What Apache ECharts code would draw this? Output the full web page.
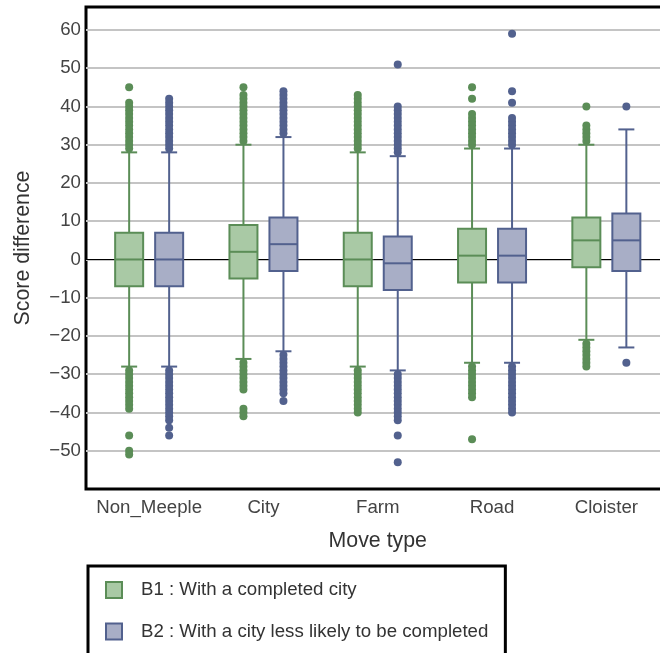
<!DOCTYPE html>
<html>
<head>
<meta charset="utf-8">
<script src="https://cdn.jsdelivr.net/npm/echarts@6/dist/echarts.min.js"></script>
<style>html,body{margin:0;padding:0;background:#fff;}#chart{width:660px;height:653px;}</style>
</head>
<body>
<div id="chart"></div>
<script>
// ---- data ----
const categories = ['Non_Meeple', 'City', 'Farm', 'Road', 'Cloister'];
const seriesNames = ['B1 : With a completed city', 'B2 : With a city less likely to be completed'];
// [lower whisker, Q1, median, Q3, upper whisker]
const b1Box = [
  [-28, -7, 0, 7, 28],
  [-26, -5, 2, 9, 30],
  [-28, -7, 0, 7, 28],
  [-27, -6, 1, 8, 29],
  [-21, -2, 5, 11, 30]
];
const b2Box = [
  [-28, -7, 0, 7, 28],
  [-24, -3, 4, 11, 32],
  [-29, -8, -1, 6, 27],
  [-27, -6, 1, 8, 29],
  [-23, -3, 5, 12, 34]
];
const b1Outliers = [
  [29,30,31,32,33,34,35,36,37,38,39,40,41,45,-29,-30,-31,-32,-33,-34,-35,-36,-37,-38,-39,-46,-50,-51],
  [31,32,33,34,35,36,37,38,39,40,41,42,43,45,-27,-28,-29,-30,-31,-32,-33,-34,-39,-40,-41],
  [29,30,31,32,33,34,35,36,37,38,39,40,41,42,43,-29,-30,-31,-32,-33,-34,-35,-36,-37,-38,-39,-40],
  [30,31,32,33,34,35,36,37,38,42,45,-28,-29,-30,-31,-32,-33,-34,-35,-36,-47],
  [31,32,33,34,35,40,-22,-23,-24,-25,-26,-27,-28]
];
const b2Outliers = [
  [29,30,31,32,33,34,35,36,37,38,39,40,41,42,-29,-30,-31,-32,-33,-34,-35,-36,-37,-38,-39,-40,-41,-42,-44,-46],
  [33,34,35,36,37,38,39,40,41,42,43,44,-25,-26,-27,-28,-29,-30,-31,-32,-33,-34,-35,-37],
  [28,29,30,31,32,33,34,35,36,37,38,39,40,51,-30,-31,-32,-33,-34,-35,-36,-37,-38,-39,-40,-41,-42,-46,-53],
  [30,31,32,33,34,35,36,37,41,44,59,-28,-29,-30,-31,-32,-33,-34,-35,-36,-37,-38,-39,-40],
  [40,-27]
];
const yTicks = { min: -60, max: 66, interval: 10 };

// ---- styles ----
const GREEN = '#5b8d57', GREEN_FILL = '#a9c9a5';
const BLUE = '#52618e', BLUE_FILL = '#a8aec6';
const FONT = '"Liberation Sans", Arial, sans-serif';

function boxData(boxes) { return boxes.map((b, i) => [i].concat(b)); }
function outlierData(outs) {
  const res = [];
  outs.forEach((arr, i) => arr.forEach(v => res.push([i, v])));
  return res;
}
function makeRender(offset, stroke, fill) {
  return function (params, api) {
    const c = api.value(0);
    const lo = api.coord([c, api.value(1)]);
    const q1 = api.coord([c, api.value(2)]);
    const md = api.coord([c, api.value(3)]);
    const q3 = api.coord([c, api.value(4)]);
    const hi = api.coord([c, api.value(5)]);
    const x = lo[0] + offset;
    const hw = 14, cw = 8;
    const ls = { stroke: stroke, lineWidth: 2 };
    return {
      type: 'group', children: [
        { type: 'line', shape: { x1: x, y1: hi[1], x2: x, y2: q3[1] }, style: ls },
        { type: 'line', shape: { x1: x, y1: q1[1], x2: x, y2: lo[1] }, style: ls },
        { type: 'line', shape: { x1: x - cw, y1: hi[1], x2: x + cw, y2: hi[1] }, style: ls },
        { type: 'line', shape: { x1: x - cw, y1: lo[1], x2: x + cw, y2: lo[1] }, style: ls },
        { type: 'rect', shape: { x: x - hw, y: q3[1], width: 2 * hw, height: q1[1] - q3[1] }, style: { fill: fill, stroke: stroke, lineWidth: 2 } },
        { type: 'line', shape: { x1: x - hw, y1: md[1], x2: x + hw, y2: md[1] }, style: ls }
      ]
    };
  };
}

const splitColors = [];
for (let v = yTicks.min; v <= yTicks.max + 9; v += yTicks.interval) {
  splitColors.push(v === yTicks.min || v > 60 ? 'rgba(0,0,0,0)' : '#c4c4c4');
}

const chart = echarts.init(document.getElementById('chart'), null, { renderer: 'canvas' });
const GRID_TOP = 7, GRID_H = 482;
chart.setOption({
  backgroundColor: '#fff',
  animation: false,
  textStyle: { fontFamily: FONT },
  grid: [
    { left: 92, top: GRID_TOP, width: 571.5, height: GRID_H, outerBoundsMode: 'none', containLabel: false },
    { left: 86, top: GRID_TOP, width: 620, height: GRID_H, outerBoundsMode: 'none', containLabel: false,
      show: true, borderColor: '#000', borderWidth: 3, backgroundColor: 'transparent' }
  ],
  xAxis: [
    {
      gridIndex: 0, type: 'category', data: categories,
      axisLine: { show: false }, axisTick: { show: false },
      axisLabel: { fontSize: 18.67, color: '#444', margin: 9, fontFamily: FONT, interval: 0 },
      name: 'Move type', nameLocation: 'middle', nameGap: 42,
      nameTextStyle: { fontSize: 21.33, color: '#333', fontFamily: FONT }
    },
    {
      gridIndex: 1, type: 'value', min: 0, max: 1,
      axisLine: { show: true, onZero: true, lineStyle: { color: '#000', width: 1 } },
      axisTick: { show: false }, axisLabel: { show: false }, splitLine: { show: false }
    }
  ],
  yAxis: [
    { gridIndex: 0, type: 'value', min: yTicks.min, max: yTicks.max, interval: yTicks.interval, show: false, splitLine: { show: false } },
    {
      gridIndex: 1, type: 'value', min: yTicks.min, max: yTicks.max, interval: yTicks.interval,
      axisLine: { show: false }, axisTick: { show: false },
      axisLabel: {
        fontSize: 18.67, color: '#444', margin: 5, showMinLabel: false, showMaxLabel: false, fontFamily: FONT,
        formatter: v => String(v).replace('-', '\u2212')
      },
      splitLine: { show: true, lineStyle: { color: splitColors, width: 2 } },
      name: 'Score difference', nameLocation: 'middle', nameGap: 52,
      nameTextStyle: { fontSize: 21.33, color: '#333', fontFamily: FONT }
    }
  ],
  legend: {
    orient: 'vertical', left: 88, top: 566, height: 200,
    borderColor: '#000', borderWidth: 3, borderRadius: 0,
    padding: [14, 17, 40, 17],
    itemWidth: 16, itemHeight: 16, itemGap: 21.5,
    textStyle: { fontSize: 18.67, color: '#333', lineHeight: 20, padding: [0, 0, 0, 14], fontFamily: FONT },
    data: [
      { name: seriesNames[0], icon: 'rect', itemStyle: { color: GREEN_FILL, borderColor: GREEN, borderWidth: 2 } },
      { name: seriesNames[1], icon: 'rect', itemStyle: { color: BLUE_FILL, borderColor: BLUE, borderWidth: 2 } }
    ]
  },
  series: [
    {
      name: seriesNames[0], type: 'scatter', xAxisIndex: 0, yAxisIndex: 0,
      data: outlierData(b1Outliers), symbolSize: 8, symbolOffset: [-20, 0],
      itemStyle: { color: GREEN, opacity: 1 }, z: 3
    },
    {
      name: seriesNames[1], type: 'scatter', xAxisIndex: 0, yAxisIndex: 0,
      data: outlierData(b2Outliers), symbolSize: 8, symbolOffset: [20, 0],
      itemStyle: { color: BLUE, opacity: 1 }, z: 3
    },
    {
      name: seriesNames[0], type: 'custom', xAxisIndex: 0, yAxisIndex: 0,
      data: boxData(b1Box), encode: { x: 0, y: [1, 2, 3, 4, 5] },
      renderItem: makeRender(-20, GREEN, GREEN_FILL), itemStyle: { color: GREEN_FILL, borderColor: GREEN }, z: 4
    },
    {
      name: seriesNames[1], type: 'custom', xAxisIndex: 0, yAxisIndex: 0,
      data: boxData(b2Box), encode: { x: 0, y: [1, 2, 3, 4, 5] },
      renderItem: makeRender(20, BLUE, BLUE_FILL), itemStyle: { color: BLUE_FILL, borderColor: BLUE }, z: 4
    }
  ]
});
</script>
</body>
</html>
